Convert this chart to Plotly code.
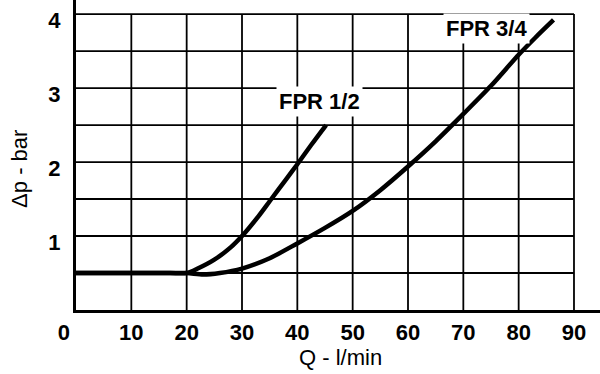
import plotly.graph_objects as go

# Data
q_half = [0, 10, 17, 20, 22, 25, 28, 30, 33, 35, 38, 40, 42.5, 45.2]
dp_half = [0.5, 0.5, 0.5, 0.5, 0.56, 0.68, 0.85, 1.0, 1.27, 1.47, 1.77, 1.97, 2.23, 2.5]

q_three_quarter = [0, 10, 17, 20, 23, 26, 30, 35, 40, 45, 50, 55, 60, 65, 70, 75, 80, 83, 86.3]
dp_three_quarter = [0.5, 0.5, 0.5, 0.5, 0.48, 0.5, 0.56, 0.7, 0.9, 1.11, 1.34, 1.62, 1.94, 2.28, 2.65, 3.03, 3.45, 3.68, 3.92]

x_ticks = [0, 10, 20, 30, 40, 50, 60, 70, 80, 90]
x_tick_labels = ["0\u00a0\u00a0\u00a0\u00a0", "10", "20", "30", "40", "50", "60", "70", "80", "90"]
y_ticks = [1, 2, 3, 4]
y_tick_labels = ["1", "2", "3", "4"]
y_grid = [0.5, 1, 1.5, 2, 2.5, 3, 3.5, 4]

series_names = ["FPR 1/2", "FPR 3/4"]
label_pos = [(44.0, 2.815), (74.2, 3.80)]

FONT = "Liberation Sans, Arial, sans-serif"

x_max_grid = max(x_ticks)
y_max_grid = max(y_grid)

# grid lines built from the tick arrays
gx, gy = [], []
for xv in x_ticks[1:]:
    gx += [xv, xv, None]
    gy += [0, y_max_grid, None]
for yv in y_grid:
    gx += [0, x_max_grid, None]
    gy += [yv, yv, None]

fig = go.Figure()
fig.add_trace(go.Scatter(x=gx, y=gy, mode="lines",
                         line=dict(color="black", width=1.8),
                         hoverinfo="skip", showlegend=False))
fig.add_trace(go.Scatter(x=q_half, y=dp_half, mode="lines", name=series_names[0],
                         line=dict(color="black", width=4.5, shape="spline", smoothing=0.8),
                         showlegend=False))
fig.add_trace(go.Scatter(x=q_three_quarter, y=dp_three_quarter, mode="lines",
                         name=series_names[1],
                         line=dict(color="black", width=4.5, shape="spline", smoothing=0.8),
                         showlegend=False))

for name, (lx, ly) in zip(series_names, label_pos):
    fig.add_annotation(x=lx, y=ly, text=name, showarrow=False,
                       xanchor="center", yanchor="middle",
                       font=dict(family=FONT, size=22, color="black", weight="bold"),
                       bgcolor="white", borderpad=2)

fig.add_annotation(xref="paper", yref="paper", x=0.504, y=-0.152, text="Q - l/min",
                   xanchor="center", yanchor="middle",
                   showarrow=False, font=dict(family=FONT, size=22, color="black"))
fig.add_annotation(xref="paper", yref="paper", x=-0.107, y=0.455, text="Δp - bar",
                   xanchor="center", yanchor="middle",
                   textangle=-90, showarrow=False,
                   font=dict(family=FONT, size=22, color="black"))

fig.update_xaxes(range=[0, 94.7], tickvals=x_ticks, ticktext=x_tick_labels,
                 showgrid=False, zeroline=False, showline=True, linecolor="black",
                 linewidth=3, ticks="", ticklabelstandoff=1,
                 tickfont=dict(family=FONT, size=22, color="black", weight="bold"))
fig.update_yaxes(range=[0, 4.19], tickvals=y_ticks, ticktext=y_tick_labels,
                 showgrid=False, zeroline=False, showline=True, linecolor="black",
                 linewidth=3, ticks="", ticklabelstandoff=8, ticklabelshift=6,
                 tickfont=dict(family=FONT, size=22, color="black", weight="bold"))

fig.update_layout(width=600, height=374, margin=dict(l=76, r=0, t=0, b=64),
                  plot_bgcolor="white", paper_bgcolor="white")

fig.write_html("out.html", config={"displayModeBar": False},
               post_script="document.body.style.margin='0';document.body.style.overflow='hidden';")
